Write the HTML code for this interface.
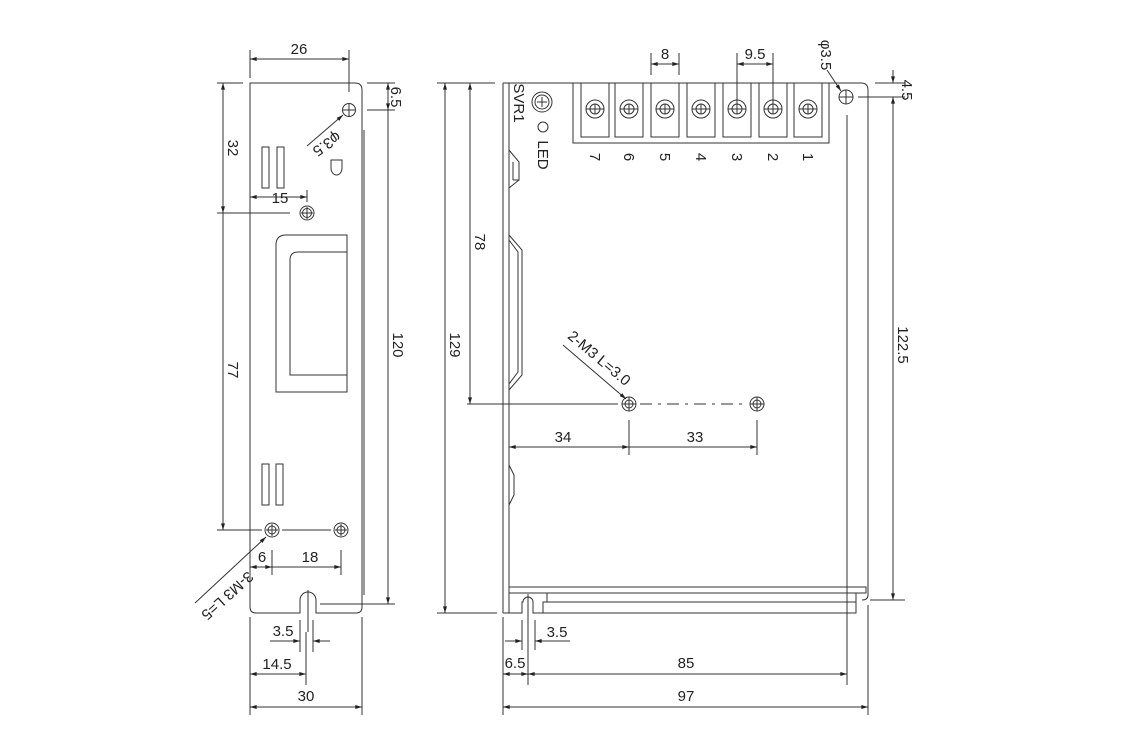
<!DOCTYPE html>
<html><head><meta charset="utf-8"><style>
html,body{margin:0;padding:0;background:#fff;}
svg{display:block;}
text{font-family:"Liberation Sans",Arial,sans-serif;font-size:15px;fill:#222;}
</style></head><body>
<svg width="1125" height="750" viewBox="0 0 1125 750" xmlns="http://www.w3.org/2000/svg">
<defs>
<marker id="a" viewBox="0 0 10 6" refX="10" refY="3" markerWidth="8" markerHeight="4" orient="auto-start-reverse" markerUnits="userSpaceOnUse"><path d="M0,0 L10,3 L0,6z" fill="#222"/></marker>
</defs>
<g fill="none" stroke="#333" stroke-width="1">
<!-- LEFT VIEW -->
<path d="M250,83 H355 Q362,83 362,90 V607 Q362,613 356,613 H316 V600 A7,7 0 0 0 300,600 V613 H256 Q250,613 250,607 Z"/>
<line x1="364" y1="130" x2="364" y2="595"/>
<line x1="308" y1="590" x2="308" y2="632"/>
<circle cx="349" cy="110" r="6.5"/>
<rect x="262" y="147" width="7" height="41"/><rect x="277" y="147" width="7" height="41"/>
<path d="M331,160 H342 V168 A5.5,7 0 0 1 331,168 Z"/>
<circle cx="307" cy="213" r="7"/><circle cx="307" cy="213" r="4.5"/>
<path d="M347,235 H286 Q276,235 276,245 V392 H347 Z"/>
<path d="M347,252 H298 Q290,252 290,260 V375 H347"/>
<rect x="262" y="464" width="7" height="41"/><rect x="276" y="464" width="7" height="41"/>
<circle cx="272" cy="530" r="7"/><circle cx="272" cy="530" r="4"/>
<circle cx="341" cy="530" r="7"/><circle cx="341" cy="530" r="4"/>
<line x1="217" y1="530" x2="262" y2="530"/><line x1="282" y1="530" x2="331" y2="530"/>
<path d="M266,530h12M272,524v12M335,530h12M341,524v12M301,213h12M307,207v12M343,110h12M349,104v12"/>
<!-- left dims -->
<line x1="250" y1="50" x2="250" y2="78"/><line x1="349" y1="50" x2="349" y2="92"/>
<line x1="250" y1="59" x2="349" y2="59" marker-start="url(#a)" marker-end="url(#a)"/>
<line x1="367" y1="83" x2="395" y2="83"/><line x1="367" y1="110" x2="395" y2="110"/>
<line x1="388" y1="83" x2="388" y2="110" marker-start="url(#a)" marker-end="url(#a)"/>
<line x1="388" y1="110" x2="388" y2="604" marker-end="url(#a)"/>
<line x1="320" y1="604" x2="395" y2="604"/>
<line x1="307" y1="146" x2="343" y2="115" marker-end="url(#a)"/>
<line x1="217" y1="83" x2="243" y2="83"/><line x1="217" y1="213" x2="290" y2="213"/>
<line x1="223" y1="83" x2="223" y2="213" marker-start="url(#a)" marker-end="url(#a)"/>
<line x1="223" y1="213" x2="223" y2="530" marker-end="url(#a)"/>
<line x1="250" y1="197" x2="307" y2="197" marker-start="url(#a)" marker-end="url(#a)"/>
<line x1="307" y1="190" x2="307" y2="202"/>
<line x1="272" y1="550" x2="272" y2="575"/><line x1="341" y1="550" x2="341" y2="575"/>
<line x1="250" y1="567" x2="272" y2="567" marker-start="url(#a)" marker-end="url(#a)"/>
<line x1="272" y1="567" x2="341" y2="567" marker-end="url(#a)"/>
<line x1="195" y1="603" x2="266" y2="537" marker-end="url(#a)"/>
<line x1="300" y1="620" x2="300" y2="652"/><line x1="313" y1="620" x2="313" y2="652"/>
<line x1="270" y1="641" x2="300" y2="641" marker-end="url(#a)"/>
<line x1="330" y1="641" x2="313" y2="641" marker-end="url(#a)"/>
<line x1="306" y1="632" x2="306" y2="685"/>
<line x1="250" y1="674" x2="306" y2="674" marker-start="url(#a)" marker-end="url(#a)"/>
<line x1="250" y1="617" x2="250" y2="715"/><line x1="362" y1="617" x2="362" y2="715"/>
<line x1="250" y1="707" x2="362" y2="707" marker-start="url(#a)" marker-end="url(#a)"/>

<!-- RIGHT VIEW -->
<path d="M503,83 H861 Q868,83 868,90 V595 Q868,600 862,600"/>
<line x1="503" y1="83" x2="503" y2="613"/><line x1="509" y1="83" x2="509" y2="613"/>
<line x1="847" y1="115" x2="847" y2="613"/>
<rect x="509" y="587" width="357" height="6"/>
<path d="M503,613 H522 V602 H523 A5,5 0 0 1 533,602 V613 H543 V602 H547 V593"/>
<path d="M543,613 H856 V593 M547,602 H856"/>
<path d="M528,594 V620"/>
<path d="M509,150 L519,162 V180 H513 M519,180 L509,188 M513,162 V180"/>
<path d="M509,235 L522,250 V375 L509,390 M509,240 L518,252 V372 L509,384"/>
<path d="M509,465 L514,475 V495 L509,505"/>
<!-- terminal block -->
<rect x="573" y="83" width="256" height="60"/>
<g id="t">
<rect x="581" y="83" width="28" height="54"/>
<circle cx="595" cy="109" r="9"/><circle cx="595" cy="109" r="5"/>
<path d="M586,109h18M595,104v10"/>
</g>
<use href="#t" x="34"/><use href="#t" x="70"/><use href="#t" x="106"/><use href="#t" x="142"/><use href="#t" x="178"/><use href="#t" x="213"/>
<circle cx="542" cy="102" r="10"/><circle cx="542" cy="102" r="7"/><path d="M537,102h10M542,97v10"/>
<circle cx="543" cy="127" r="5"/>
<circle cx="846" cy="97" r="7"/><path d="M839,97h14M846,90v14"/>
<!-- right dims -->
<line x1="651" y1="53" x2="651" y2="75"/><line x1="679" y1="53" x2="679" y2="75"/>
<line x1="651" y1="64" x2="679" y2="64" marker-start="url(#a)" marker-end="url(#a)"/>
<line x1="737" y1="53" x2="737" y2="109"/><line x1="773" y1="53" x2="773" y2="109"/>
<line x1="737" y1="64" x2="773" y2="64" marker-start="url(#a)" marker-end="url(#a)"/>
<line x1="827" y1="70" x2="841" y2="91" marker-end="url(#a)"/>
<line x1="875" y1="83" x2="905" y2="83"/><line x1="858" y1="97" x2="905" y2="97"/>
<line x1="893" y1="70" x2="893" y2="83" marker-end="url(#a)"/>
<line x1="893" y1="97" x2="893" y2="600" marker-start="url(#a)" marker-end="url(#a)"/>
<line x1="870" y1="600" x2="905" y2="600"/>
<line x1="437" y1="83" x2="495" y2="83"/><line x1="437" y1="613" x2="497" y2="613"/>
<line x1="445" y1="83" x2="445" y2="613" marker-start="url(#a)" marker-end="url(#a)"/>
<line x1="470" y1="83" x2="470" y2="404" marker-start="url(#a)" marker-end="url(#a)"/>
<line x1="467" y1="404" x2="618" y2="404"/>
<circle cx="629" cy="404" r="7"/><circle cx="629" cy="404" r="4"/><path d="M622,404h14M629,397v14"/>
<circle cx="757" cy="404" r="7"/><circle cx="757" cy="404" r="4"/><path d="M750,404h14M757,397v14"/>
<line x1="640" y1="404" x2="746" y2="404" stroke-dasharray="12,6,3,6"/>
<line x1="563" y1="345" x2="626" y2="399" marker-end="url(#a)"/>
<line x1="629" y1="420" x2="629" y2="455"/><line x1="757" y1="420" x2="757" y2="455"/>
<line x1="509" y1="447" x2="629" y2="447" marker-start="url(#a)" marker-end="url(#a)"/>
<line x1="629" y1="447" x2="757" y2="447" marker-end="url(#a)"/>
<line x1="522" y1="620" x2="522" y2="650"/><line x1="535" y1="620" x2="535" y2="650"/>
<line x1="505" y1="641" x2="522" y2="641" marker-end="url(#a)"/>
<line x1="570" y1="641" x2="535" y2="641" marker-end="url(#a)"/>
<line x1="528" y1="620" x2="528" y2="685"/>
<line x1="503" y1="617" x2="503" y2="715"/><line x1="868" y1="605" x2="868" y2="715"/>
<line x1="847" y1="613" x2="847" y2="685"/>
<line x1="503" y1="674" x2="528" y2="674" marker-start="url(#a)" marker-end="url(#a)"/>
<line x1="528" y1="674" x2="847" y2="674" marker-start="url(#a)" marker-end="url(#a)"/>
<line x1="503" y1="707" x2="868" y2="707" marker-start="url(#a)" marker-end="url(#a)"/>
</g>
<!-- left texts -->
<text x="299" y="54" text-anchor="middle">26</text>
<text transform="translate(391,97) rotate(90)" text-anchor="middle">6.5</text>
<text transform="translate(324,140) rotate(145)" text-anchor="middle">φ3.5</text>
<text transform="translate(228,148) rotate(90)" text-anchor="middle">32</text>
<text x="280" y="203" text-anchor="middle">15</text>
<text transform="translate(228,370) rotate(90)" text-anchor="middle">77</text>
<text transform="translate(393,345) rotate(90)" text-anchor="middle">120</text>
<text x="262" y="562" text-anchor="middle">6</text>
<text x="310" y="562" text-anchor="middle">18</text>
<text transform="translate(224,592) rotate(138)" text-anchor="middle">3-M3 L=5</text>
<text x="283" y="636" text-anchor="middle">3.5</text>
<text x="277" y="669" text-anchor="middle">14.5</text>
<text x="306" y="701" text-anchor="middle">30</text>
<!-- right texts -->
<text x="665" y="59" text-anchor="middle">8</text>
<text x="755" y="59" text-anchor="middle">9.5</text>
<text transform="translate(821,55) rotate(90)" text-anchor="middle">φ3.5</text>
<text transform="translate(902,90) rotate(90)" text-anchor="middle">4.5</text>
<text transform="translate(898,345) rotate(90)" text-anchor="middle">122.5</text>
<text transform="translate(450,345) rotate(90)" text-anchor="middle">129</text>
<text transform="translate(475,242) rotate(90)" text-anchor="middle">78</text>
<text transform="translate(514,103) rotate(90)" text-anchor="middle">SVR1</text>
<text transform="translate(538,155) rotate(90)" text-anchor="middle">LED</text>
<g text-anchor="middle">
<text transform="translate(590,157) rotate(90)">7</text>
<text transform="translate(624,157) rotate(90)">6</text>
<text transform="translate(660,157) rotate(90)">5</text>
<text transform="translate(696,157) rotate(90)">4</text>
<text transform="translate(732,157) rotate(90)">3</text>
<text transform="translate(768,157) rotate(90)">2</text>
<text transform="translate(803,157) rotate(90)">1</text>
</g>
<text transform="translate(596,362) rotate(40)" text-anchor="middle">2-M3 L=3.0</text>
<text x="563" y="442" text-anchor="middle">34</text>
<text x="695" y="442" text-anchor="middle">33</text>
<text x="557" y="637" text-anchor="middle">3.5</text>
<text x="515" y="668" text-anchor="middle">6.5</text>
<text x="686" y="668" text-anchor="middle">85</text>
<text x="686" y="701" text-anchor="middle">97</text>
</svg>
</body></html>
